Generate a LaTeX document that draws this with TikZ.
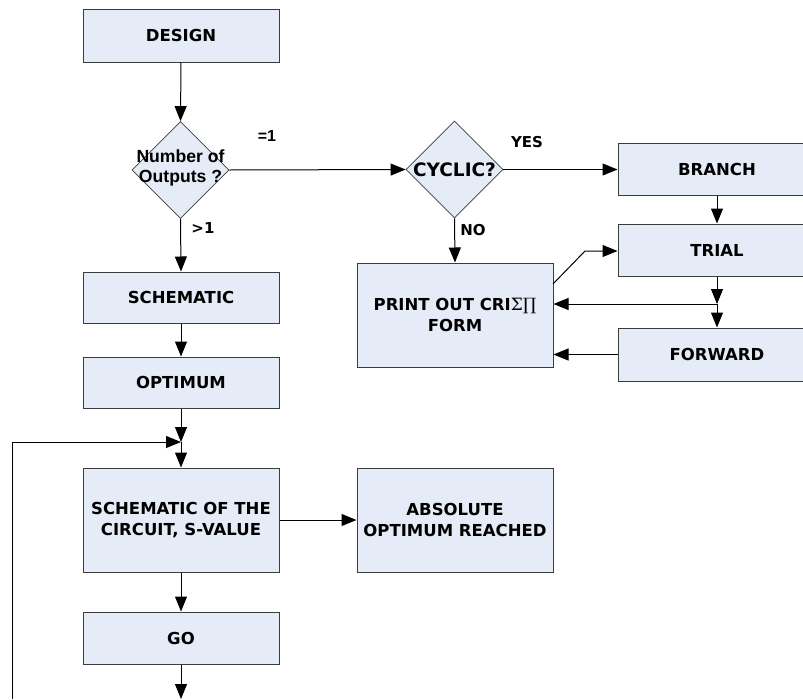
\documentclass[tikz,border=0pt]{standalone}
\usepackage{fontspec}
\setmainfont{DejaVu Sans}
\newfontfamily\arialf{Liberation Sans}
\newfontfamily\serf{DejaVu Serif}
\usetikzlibrary{arrows.meta,shapes.geometric}
\definecolor{boxfill}{RGB}{230,236,247}
\definecolor{boxline}{RGB}{60,60,60}
\begin{document}
\begin{tikzpicture}[x=1pt,y=-1pt,
  box/.style={draw=boxline,fill=boxfill,line width=1pt,rectangle,minimum width=196pt,inner sep=0pt,align=center,font=\fontsize{16.5}{21}\selectfont\bfseries},
  dia/.style={draw=boxline,fill=boxfill,line width=0.8pt,diamond,inner sep=0pt,minimum width=97pt,minimum height=97pt},
  conn/.style={line width=1pt,-{Triangle[length=15pt,width=12pt]}},
  lbl/.style={font=\fontsize{15}{18}\selectfont\bfseries,inner sep=0pt}]
\useasboundingbox (0,0) rectangle (803,699);
\clip (0,0) rectangle (803,699);
% nodes
\node[box,minimum height=53pt] (design) at (181,35.5) {DESIGN};
\node[dia] (num) at (180.5,170) {};
\node[font=\arialf\fontsize{17.6}{20}\selectfont\bfseries,align=center,inner sep=0pt] (numt) at (180.5,168) {Number of\\Outputs ?};
\node[box,minimum height=51pt] (schem) at (181,297.5) {SCHEMATIC};
\node[box,minimum height=51pt] (optim) at (181,382.5) {OPTIMUM};
\node[box,minimum height=104pt] (circ) at (181,520) {SCHEMATIC OF THE\\CIRCUIT, S-VALUE};
\node[box,minimum height=52pt] (go) at (181,638) {GO};
\node[box,minimum height=104pt] (absol) at (455,520) {ABSOLUTE\\OPTIMUM REACHED};
\node[dia] (cyc) at (454.5,169.5) {};
\node[font=\fontsize{18.5}{22}\selectfont\bfseries,inner sep=0pt] (cyct) at (454.5,170) {CYCLIC?};
\node[box,minimum width=198pt,minimum height=52pt] (branch) at (717,169) {BRANCH};
\node[box,minimum width=198pt,minimum height=52pt] (trial) at (717,250) {TRIAL};
\node[box,minimum width=198pt,minimum height=53pt] (forward) at (717,354.5) {FORWARD};
\node[box,minimum height=104pt] (print) at (455,315) {PRINT OUT CRI{\serf\mdseries\fontsize{17}{21}\selectfont Σ∏}\\FORM};
% labels
\node[lbl,font=\arialf\fontsize{16}{18}\selectfont\bfseries] (l1) at (267,136) {=1};
\node[lbl] (l2) at (203,228) {>1};
\node[lbl] (l3) at (527,142) {YES};
\node[lbl] (l4) at (473,230) {NO};
% coordinates
\coordinate (j1) at (181,442);
\coordinate (lb) at (12,699);
\coordinate (lc) at (12,442);
\coordinate (gend) at (181,699);
\coordinate (j2) at (717,304);
\coordinate (p1) at (553,284);
\coordinate (p2) at (585,251);
% connectors
\draw[conn] (design.south) -- (num.north);
\draw[conn] (num.east) -- (cyc.west);
\draw[conn] (num.south) -- (schem.north);
\draw[conn] (schem.south) -- (optim.north);
\draw[conn] (optim.south) -- (j1);
\draw[conn] (j1) -- (circ.north);
\draw[conn] (lb) -- (lc) -- (j1);
\draw[conn] (circ.east) -- (absol.west);
\draw[conn] (circ.south) -- (go.north);
\draw[conn] (go.south) -- (gend);
\draw[conn] (cyc.east) -- (branch.west |- cyc.east);
\draw[conn] (cyc.south) -- (print.north);
\draw[conn] (branch.south) -- (trial.north);
\draw[conn] (p1) -- (p2) -- (trial.west |- p2);
\draw[conn] (trial.south) -- (j2);
\draw[conn] (j2) -- (forward.north);
\draw[conn] (j2) -- (print.east |- j2);
\draw[conn] (forward.west) -- (print.east |- forward.west);
\end{tikzpicture}
\end{document}
